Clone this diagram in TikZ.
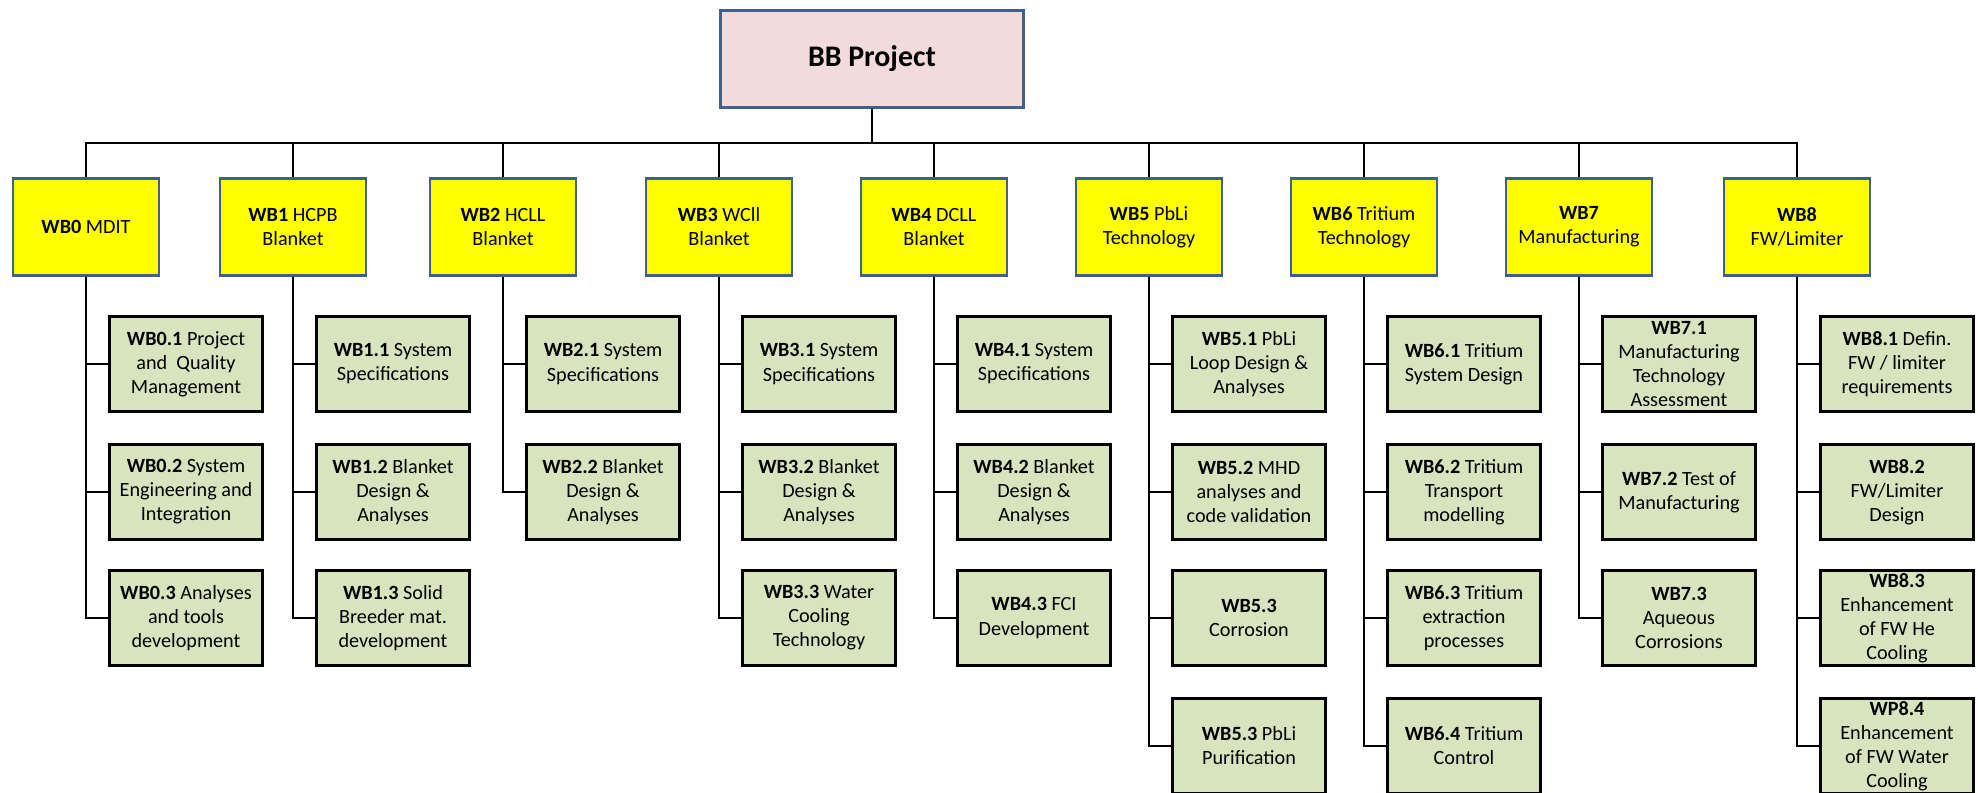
\documentclass[tikz,border=0pt]{standalone}
\usepackage{fontspec}
\setmainfont{Carlito}
\usepackage{xcolor}
\usetikzlibrary{positioning}
\definecolor{bbpink}{RGB}{242,220,219}
\definecolor{bbblue}{RGB}{63,95,140}
\definecolor{wpyellow}{RGB}{255,255,0}
\definecolor{taskgreen}{RGB}{215,228,189}
\tikzset{
  topbox/.style={draw=bbblue, line width=1.7pt, fill=bbpink, align=center, minimum width=6.08cm, minimum height=1.94cm, font=\fontsize{17}{20}\selectfont\bfseries},
  wpbox/.style={draw=bbblue, line width=1.6pt, fill=wpyellow, align=center, inner sep=0pt, minimum width=2.92cm, minimum height=1.94cm, font=\fontsize{11.5}{13.7}\selectfont},
  taskbox/.style={draw=black, line width=1.9pt, fill=taskgreen, align=center, inner sep=0pt, minimum width=3.05cm, minimum height=1.89cm, font=\fontsize{11.5}{13.7}\selectfont},
  buslink/.style={line width=1.4pt},
  link/.style={line width=1.1pt},
}

\begin{document}
\begin{tikzpicture}[x=0.02cm, y=-0.02cm]
  \useasboundingbox (0,0) rectangle (1978,793);

  \node[topbox] (bb) at (872,59) {BB Project};

  \node[wpbox] (wb0) at (86,227) {\textbf{WB0} MDIT};
  \node[wpbox] (wb1) at (293,227) {\textbf{WB1} HCPB\\Blanket};
  \node[wpbox] (wb2) at (503,227) {\textbf{WB2} HCLL\\Blanket};
  \node[wpbox] (wb3) at (719,227) {\textbf{WB3} WCll\\Blanket};
  \node[wpbox] (wb4) at (934,227) {\textbf{WB4} DCLL\\Blanket};
  \node[wpbox] (wb5) at (1149,227) {\textbf{WB5} PbLi\\Technology};
  \node[wpbox] (wb6) at (1364,227) {\textbf{WB6} Tritium\\Technology};
  \node[wpbox] (wb7) at (1579,227) {\textbf{WB7}\\Manufacturing};
  \node[wpbox] (wb8) at (1797,227) {\textbf{WB8}\\FW/Limiter};

  \node[taskbox] (wb01) at (186,364) {\textbf{WB0.1} Project\\and~ Quality\\Management};
  \node[taskbox] (wb02) at (186,492) {\textbf{WB0.2} System\\Engineering and\\Integration};
  \node[taskbox] (wb03) at (186,618) {\textbf{WB0.3} Analyses\\and tools\\development};

  \node[taskbox] (wb11) at (393,364) {\textbf{WB1.1} System\\Specifications};
  \node[taskbox] (wb12) at (393,492) {\textbf{WB1.2} Blanket\\Design \&\\Analyses};
  \node[taskbox] (wb13) at (393,618) {\textbf{WB1.3} Solid\\Breeder mat.\\development};

  \node[taskbox] (wb21) at (603,364) {\textbf{WB2.1} System\\Specifications};
  \node[taskbox] (wb22) at (603,492) {\textbf{WB2.2} Blanket\\Design \&\\Analyses};

  \node[taskbox] (wb31) at (819,364) {\textbf{WB3.1} System\\Specifications};
  \node[taskbox] (wb32) at (819,492) {\textbf{WB3.2} Blanket\\Design \&\\Analyses};
  \node[taskbox] (wb33) at (819,618) {\textbf{WB3.3} Water\\Cooling\\Technology};

  \node[taskbox] (wb41) at (1034,364) {\textbf{WB4.1} System\\Specifications};
  \node[taskbox] (wb42) at (1034,492) {\textbf{WB4.2} Blanket\\Design \&\\Analyses};
  \node[taskbox] (wb43) at (1034,618) {\textbf{WB4.3} FCI\\Development};

  \node[taskbox] (wb51) at (1249,364) {\textbf{WB5.1} PbLi\\Loop Design \&\\Analyses};
  \node[taskbox] (wb52) at (1249,492) {\textbf{WB5.2} MHD\\analyses and\\code validation};
  \node[taskbox] (wb53) at (1249,618) {\textbf{WB5.3}\\Corrosion};
  \node[taskbox] (wb54) at (1249,746) {\textbf{WB5.3} PbLi\\Purification};

  \node[taskbox] (wb61) at (1464,364) {\textbf{WB6.1} Tritium\\System Design};
  \node[taskbox] (wb62) at (1464,492) {\textbf{WB6.2} Tritium\\Transport\\modelling};
  \node[taskbox] (wb63) at (1464,618) {\textbf{WB6.3} Tritium\\extraction\\processes};
  \node[taskbox] (wb64) at (1464,746) {\textbf{WB6.4} Tritium\\Control};

  \node[taskbox] (wb71) at (1679,364) {\textbf{WB7.1}\\Manufacturing\\Technology\\Assessment};
  \node[taskbox] (wb72) at (1679,492) {\textbf{WB7.2} Test of\\Manufacturing};
  \node[taskbox] (wb73) at (1679,618) {\textbf{WB7.3}\\Aqueous\\Corrosions};

  \node[taskbox] (wb81) at (1897,364) {\textbf{WB8.1} Defin.\\FW / limiter\\requirements};
  \node[taskbox] (wb82) at (1897,492) {\textbf{WB8.2}\\FW/Limiter\\Design};
  \node[taskbox] (wb83) at (1897,618) {\textbf{WB8.3}\\Enhancement\\of FW He\\Cooling};
  \node[taskbox] (wb84) at (1897,746) {\textbf{WP8.4}\\Enhancement\\of FW Water\\Cooling};

  % project to work packages
  \draw[buslink] (bb.south) -- ++(0,34) -| (wb0.north);
  \draw[buslink] (bb.south) -- ++(0,34) -| (wb1.north);
  \draw[buslink] (bb.south) -- ++(0,34) -| (wb2.north);
  \draw[buslink] (bb.south) -- ++(0,34) -| (wb3.north);
  \draw[buslink] (bb.south) -- ++(0,34) -| (wb4.north);
  \draw[buslink] (bb.south) -- ++(0,34) -| (wb5.north);
  \draw[buslink] (bb.south) -- ++(0,34) -| (wb6.north);
  \draw[buslink] (bb.south) -- ++(0,34) -| (wb7.north);
  \draw[buslink] (bb.south) -- ++(0,34) -| (wb8.north);

  % work packages to tasks
  \draw[link] (wb0.south) |- (wb01.west);
  \draw[link] (wb0.south) |- (wb02.west);
  \draw[link] (wb0.south) |- (wb03.west);
  \draw[link] (wb1.south) |- (wb11.west);
  \draw[link] (wb1.south) |- (wb12.west);
  \draw[link] (wb1.south) |- (wb13.west);
  \draw[link] (wb2.south) |- (wb21.west);
  \draw[link] (wb2.south) |- (wb22.west);
  \draw[link] (wb3.south) |- (wb31.west);
  \draw[link] (wb3.south) |- (wb32.west);
  \draw[link] (wb3.south) |- (wb33.west);
  \draw[link] (wb4.south) |- (wb41.west);
  \draw[link] (wb4.south) |- (wb42.west);
  \draw[link] (wb4.south) |- (wb43.west);
  \draw[link] (wb5.south) |- (wb51.west);
  \draw[link] (wb5.south) |- (wb52.west);
  \draw[link] (wb5.south) |- (wb53.west);
  \draw[link] (wb5.south) |- (wb54.west);
  \draw[link] (wb6.south) |- (wb61.west);
  \draw[link] (wb6.south) |- (wb62.west);
  \draw[link] (wb6.south) |- (wb63.west);
  \draw[link] (wb6.south) |- (wb64.west);
  \draw[link] (wb7.south) |- (wb71.west);
  \draw[link] (wb7.south) |- (wb72.west);
  \draw[link] (wb7.south) |- (wb73.west);
  \draw[link] (wb8.south) |- (wb81.west);
  \draw[link] (wb8.south) |- (wb82.west);
  \draw[link] (wb8.south) |- (wb83.west);
  \draw[link] (wb8.south) |- (wb84.west);
\end{tikzpicture}
\end{document}
